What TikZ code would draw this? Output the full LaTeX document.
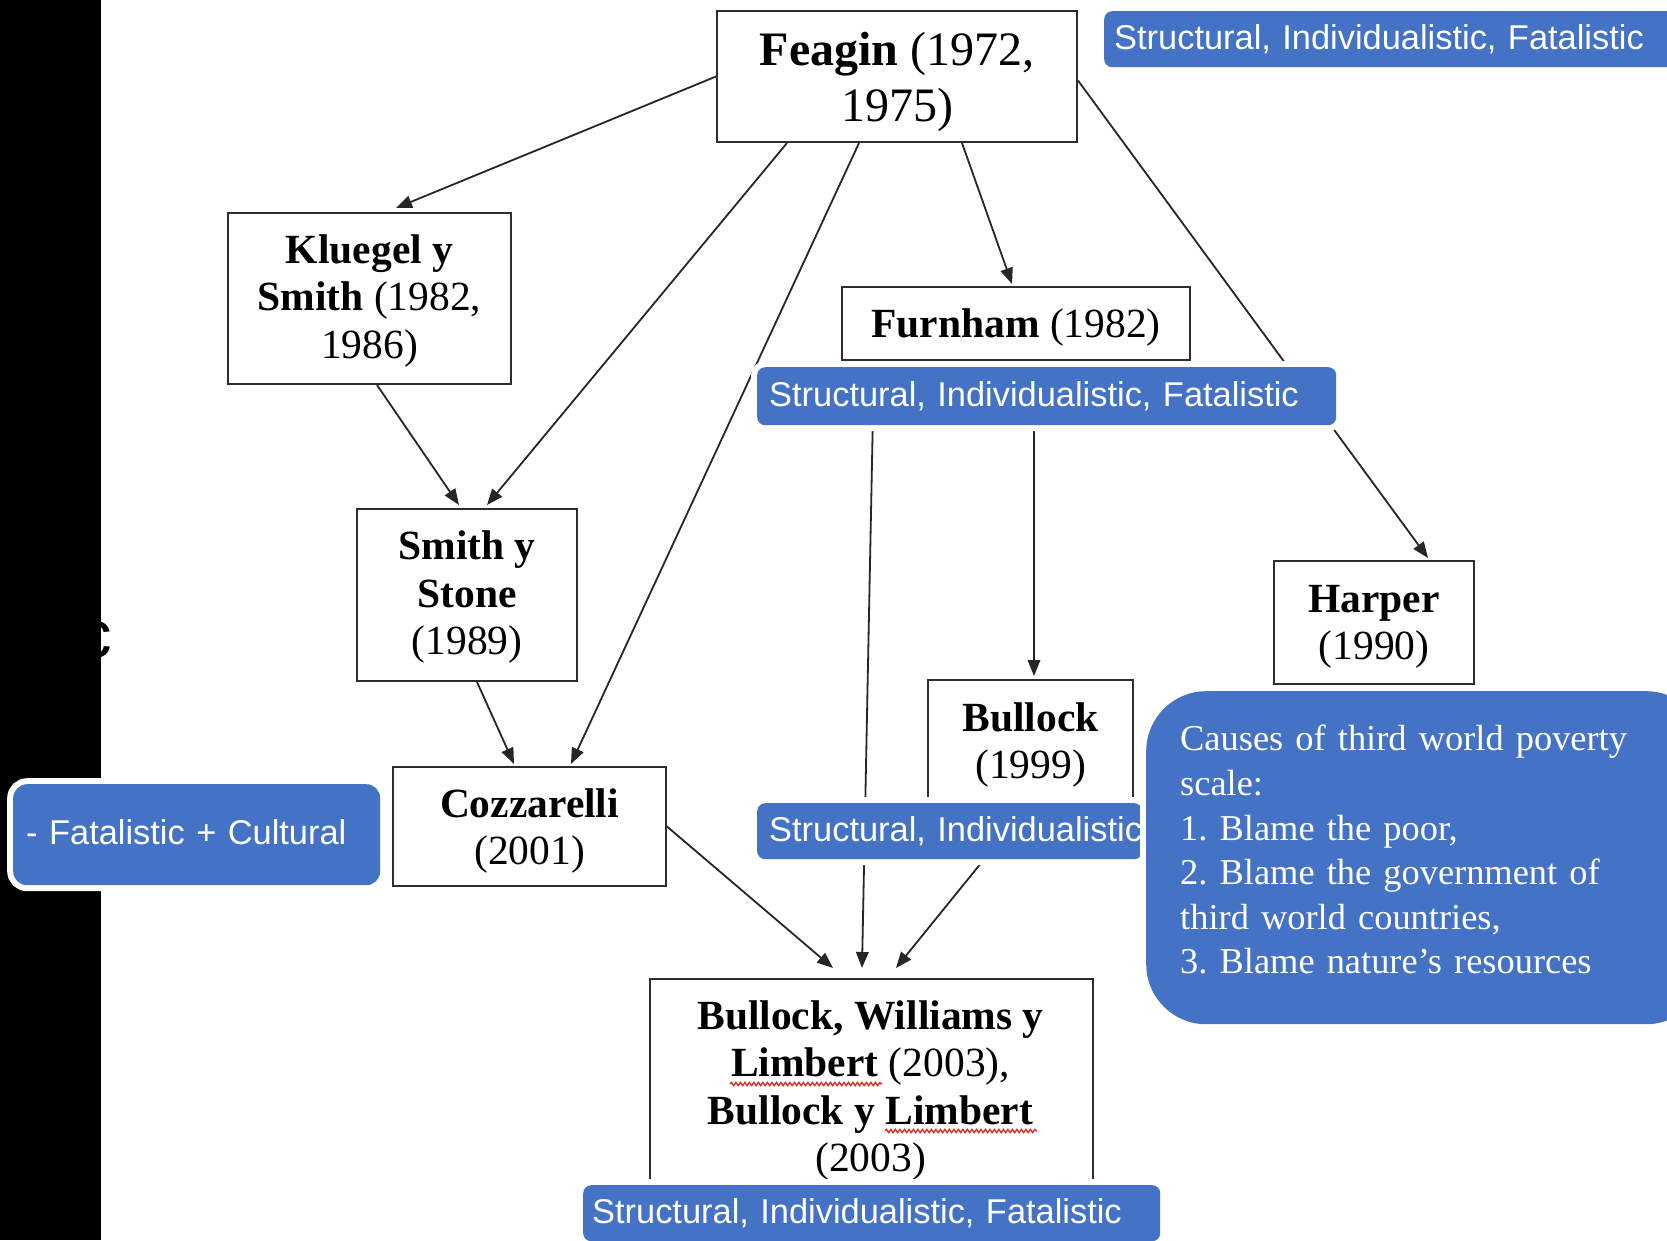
\documentclass[tikz,border=0pt]{standalone}
\usepackage{fontspec}
\setmainfont{Liberation Serif}
\newfontfamily\lblsans{Liberation Sans}
\usetikzlibrary{arrows.meta,calc,decorations.pathmorphing}
\definecolor{lblue}{HTML}{4472C4}
\definecolor{boxgray}{HTML}{2E2E2E}
\definecolor{squig}{HTML}{E0302A}
\frenchspacing
\begin{document}
\begin{tikzpicture}[x=1pt,y=-1pt,
  refbox/.style={draw=boxgray, line width=2pt, fill=white, anchor=north west,
    inner sep=0pt, align=center, text depth=0pt, font=\fontsize{41.5}{47.5}\selectfont},
  arr/.style={draw=black!85, line width=1.8pt, -{Triangle[length=16pt,width=12.5pt]}},
  lbl/.style={fill=lblue, rounded corners=8pt,
    preaction={draw=white, line width=12pt},
    text=white, font=\lblsans\fontsize{34.4}{40}\selectfont, anchor=north west,
    inner xsep=10pt, inner ysep=0pt, align=left},
  squiggly/.style={draw=squig, line width=1.4pt, decorate,
    decoration={snake, amplitude=1.6pt, segment length=4.5pt}}
]
\useasboundingbox (0,0) rectangle (1667,1240);
\clip (0,0) rectangle (1667,1240);
\fill[white] (0,0) rectangle (1667,1240);
% black strip at left
\fill[black] (0,0) rectangle (101,1240);
\node[anchor=base west, inner sep=0pt, font=\lblsans\fontsize{67}{67}\selectfont] (cfrag) at (78,657) {c};

% boxes
\node[refbox, minimum width=360pt, minimum height=131pt,
      font=\fontsize{48}{56}\selectfont] (feagin) at (716,10) {\textbf{Feagin} (1972,\\1975)};
\node[refbox, minimum width=283pt, minimum height=171pt, text depth=4pt] (kluegel) at (227,212)
  {\textbf{Kluegel y}\\\textbf{Smith} (1982,\\1986)};
\node[refbox, minimum width=348pt, minimum height=73pt] (furnham) at (841,286)
  {\textbf{Furnham} (1982)};
\node[refbox, minimum width=220pt, minimum height=172pt, text depth=4pt] (smith) at (356,508)
  {\textbf{Smith y}\\\textbf{Stone}\\(1989)};
\node[refbox, minimum width=200pt, minimum height=123pt] (harper) at (1273,560)
  {\textbf{Harper}\\(1990)};
\node[refbox, minimum width=205pt, minimum height=121pt] (bullock) at (927,679)
  {\textbf{Bullock}\\(1999)};
\node[refbox, minimum width=273pt, minimum height=119pt] (cozz) at (392,766)
  {\textbf{Cozzarelli}\\(2001)};
\node[refbox, minimum width=443pt, minimum height=300pt] (bw) at (649,978) {};
\node[anchor=north, inner sep=0pt, align=center, font=\fontsize{41.5}{47.5}\selectfont]
  (bwtext) at (870.5,1000)
  {\textbf{Bullock, Williams y}\\\textbf{Limbert} (2003),\\\textbf{Bullock y Limbert}\\(2003)};
\draw[squiggly] (730,1084) -- (882,1084);
\draw[squiggly] (885,1131) -- (1037,1131);

% connectors
\draw[arr] (feagin.west) -- ([xshift=169pt,yshift=4pt]kluegel.north west);
\draw[arr] ([xshift=71pt]feagin.south west) -- ([xshift=131pt,yshift=3pt]smith.north west);
\draw[arr] ([xshift=143pt]feagin.south west) -- ([xshift=179pt,yshift=2pt]cozz.north west);
\draw[arr] ([xshift=246pt]feagin.south west) -- ([xshift=171pt,yshift=2pt]furnham.north west);
\draw[arr] ([yshift=-4pt]feagin.east) -- ([xshift=155pt,yshift=2pt]harper.north west);
\draw[arr] ([xshift=150pt]kluegel.south west) -- ([xshift=103pt,yshift=3pt]smith.north west);
\draw[arr] ([xshift=121pt]smith.south west) -- ([xshift=122pt,yshift=2pt]cozz.north west);
\draw[arr] ([xshift=33pt]furnham.south west) -- ([xshift=213pt,yshift=10pt]bw.north west);
\draw[arr] ([xshift=193pt]furnham.south west) -- ([xshift=107pt,yshift=3pt]bullock.north west);
\draw[arr] (cozz.east) -- ([xshift=184pt,yshift=10pt]bw.north west);
\draw[arr] (bullock.south) -- ([xshift=247pt,yshift=10pt]bw.north west);

% blue labels
\node[lbl, minimum width=600pt, text width=580pt, minimum height=56pt] (lab1) at (1104,11)
  {\mbox{Structural, Individualistic, Fatalistic}};
\node[lbl, minimum width=579pt, text width=555pt, minimum height=58pt, inner xsep=12pt] (lab2) at (757,367)
  {\mbox{Structural, Individualistic, Fatalistic}};
\node[lbl, minimum width=385pt, text width=361pt, minimum height=56pt, inner xsep=12pt] (lab3) at (757,803)
  {\mbox{Structural, Individualistic}};
\node[lbl, minimum width=577pt, text width=559pt, minimum height=56pt, inner xsep=9pt] (lab4) at (583,1185)
  {\mbox{Structural, Individualistic, Fatalistic}};
\node[lbl, rounded corners=14pt, minimum width=367pt, text width=341pt, minimum height=101pt,
      inner xsep=13pt, text depth=6pt] (lab5) at (13,784)
  {\mbox{- Fatalistic + Cultural}};

% big rounded box
\node[fill=lblue, rounded corners=60pt, preaction={draw=white, line width=12pt},
      anchor=north west, minimum width=560pt, minimum height=333pt, inner sep=0pt] (bigbox) at (1146,691) {};
\node[anchor=north west, inner sep=0pt, text width=470pt, align=left, text=white,
      font=\fontsize{36.4}{44.6}\selectfont] (causes) at (1180,725)
  {Causes of third world poverty\\scale:\\1. Blame the poor,\\2. Blame the government of\\third world countries,\\3. Blame nature’s resources};
\end{tikzpicture}
\end{document}
